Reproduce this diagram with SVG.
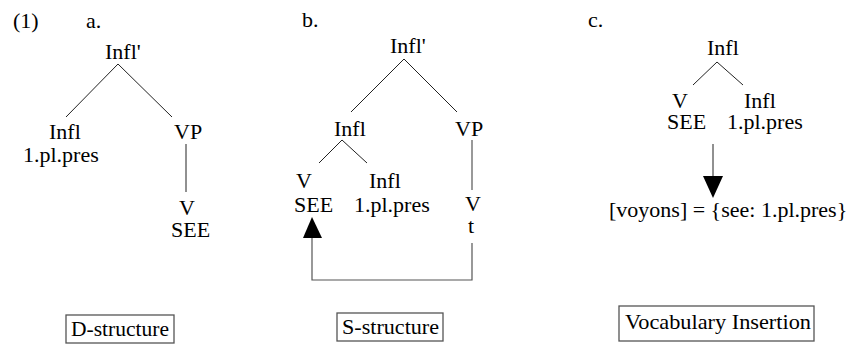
<svg xmlns="http://www.w3.org/2000/svg" width="848" height="344" viewBox="0 0 848 344" font-family="'Liberation Serif', 'DejaVu Serif', serif">
<style>
text{font-family:'Liberation Serif','DejaVu Serif',serif;font-size:22px;fill:#000}
.e{stroke:#222;stroke-width:1;fill:none}
.m{stroke:#555;stroke-width:1.2;fill:none}
.b{stroke:#555;stroke-width:1.3;fill:#fff}
.h{fill:#000}
</style>
<g id="labels">
<text x="13" y="28">(1)</text>
<text x="86" y="28">a.</text>
<text x="302" y="27">b.</text>
<text x="588" y="27">c.</text>
</g>
<g id="connectors">
<line class="e" x1="118" y1="64" x2="66" y2="117"/>
<line class="e" x1="118" y1="64" x2="172" y2="117"/>
<line class="e" x1="186" y1="144" x2="186" y2="192"/>
<line class="e" x1="404" y1="59" x2="351" y2="112"/>
<line class="e" x1="404" y1="59" x2="457" y2="112"/>
<line class="e" x1="342" y1="140" x2="319" y2="163"/>
<line class="e" x1="342" y1="140" x2="367" y2="163"/>
<line class="m" x1="472" y1="140" x2="472" y2="190"/>
<polyline class="m" points="472,243 472,280 312,280 312,237"/>
<polygon class="h" points="312,217 303,238 322,238"/>
<line class="e" x1="713" y1="144" x2="713" y2="178"/>
<polygon class="h" points="713,198 703,176 723,176"/>
<line class="e" x1="717" y1="62" x2="693" y2="85"/>
<line class="e" x1="717" y1="62" x2="743" y2="85"/>
</g>
<g id="tree-a">
<text x="105" y="59">Infl'</text>
<text x="49" y="139">Infl</text>
<text x="23" y="162">1.pl.pres</text>
<text x="174" y="139">VP</text>
<text x="179" y="215">V</text>
<text x="171" y="237">SEE</text>
</g>
<g id="tree-b">
<text x="390" y="53">Infl'</text>
<text x="334" y="136">Infl</text>
<text x="455" y="136">VP</text>
<text x="296" y="188">V</text>
<text x="294" y="212">SEE</text>
<text x="369" y="188">Infl</text>
<text x="354" y="212">1.pl.pres</text>
<text x="465" y="211">V</text>
<text x="468" y="233">t</text>
</g>
<g id="tree-c">
<text x="707" y="55">Infl</text>
<text x="672" y="108">V</text>
<text x="744" y="108">Infl</text>
<text x="667" y="129">SEE</text>
<text x="727" y="129">1.pl.pres</text>
<text x="609" y="217">[voyons] = {see: 1.pl.pres}</text>
</g>
<g id="box-d">
<rect class="b" x="66" y="315" width="108" height="28"/>
<text x="71" y="336" textLength="98" lengthAdjust="spacingAndGlyphs">D-structure</text>
</g>
<g id="box-s">
<rect class="b" x="337" y="313" width="106" height="28"/>
<text x="342" y="334" textLength="97" lengthAdjust="spacingAndGlyphs">S-structure</text>
</g>
<g id="box-v">
<rect class="b" x="619" y="306" width="195" height="35"/>
<text x="625" y="329" textLength="186" lengthAdjust="spacingAndGlyphs">Vocabulary Insertion</text>
</g>
</svg>
